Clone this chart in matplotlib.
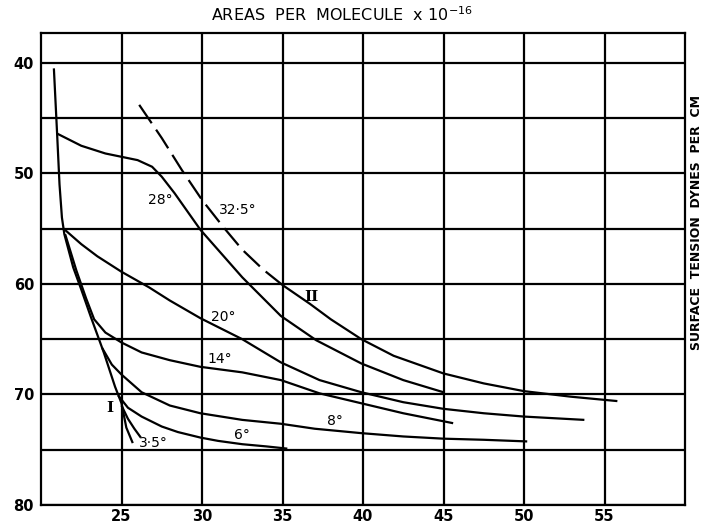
import numpy as np
import matplotlib
matplotlib.use("Agg")
import matplotlib.pyplot as plt

# Axis ticks
x_ticks = [25, 30, 35, 40, 45, 50, 55]
y_ticks = [40, 50, 60, 70, 80]
y_minor = [45, 55, 65, 75]

# Curves (area per molecule, surface tension)
env_x = [20.8, 21.0, 21.15, 21.3, 21.45, 22.0, 22.5, 23.1, 23.9, 24.6, 25.0, 25.3, 25.7]
env_y = [40.5, 46.4, 51.0, 54.0, 55.5, 58.5, 60.5, 63.0, 66.2, 69.3, 70.8, 73.0, 74.4]

t28_x = [21.0, 22.5, 24.0, 25.0, 26.0, 26.9, 27.5, 28.3, 29.9, 32.5, 34.9, 37.1, 39.9, 42.5, 45.0]
t28_y = [46.4, 47.5, 48.2, 48.5, 48.8, 49.4, 50.3, 51.8, 55.1, 59.4, 62.9, 65.1, 67.2, 68.7, 69.8]

t325_x = [26.1, 27.5, 28.75, 30.0, 31.35, 32.5, 33.8, 35.0]
t325_y = [43.8, 46.8, 49.7, 52.4, 54.9, 56.9, 58.7, 60.1]

II_x = [35.0, 36.7, 38.0, 39.9, 41.9, 45.0, 47.5, 50.0, 52.9, 55.8]
II_y = [60.1, 61.8, 63.2, 65.0, 66.5, 68.1, 69.0, 69.7, 70.2, 70.6]

t20_x = [21.4, 22.5, 23.5, 25.0, 26.7, 28.0, 29.9, 32.5, 34.9, 37.3, 39.9, 42.5, 45.0, 47.5, 50.0, 53.75]
t20_y = [55.0, 56.4, 57.5, 58.9, 60.3, 61.5, 63.1, 65.0, 67.1, 68.7, 69.8, 70.7, 71.3, 71.7, 72.0, 72.3]

t14_x = [21.5, 22.2, 22.8, 23.3, 24.0, 25.0, 26.25, 28.0, 29.9, 32.5, 34.9, 37.3, 39.9, 42.5, 45.6]
t14_y = [55.5, 58.8, 61.3, 63.2, 64.4, 65.3, 66.2, 66.9, 67.5, 68.0, 68.7, 69.9, 70.8, 71.7, 72.6]

t8_x = [23.8, 24.4, 25.0, 26.25, 28.0, 29.9, 32.5, 34.9, 37.0, 39.9, 42.5, 45.0, 47.5, 50.2]
t8_y = [65.8, 67.3, 68.2, 69.8, 71.0, 71.7, 72.3, 72.65, 73.1, 73.5, 73.8, 74.0, 74.1, 74.25]

t6_x = [24.8, 25.4, 26.25, 27.5, 28.5, 29.9, 31.0, 32.5, 34.0, 35.3]
t6_y = [70.1, 71.2, 72.0, 72.9, 73.4, 73.9, 74.2, 74.5, 74.7, 74.9]

t35_x = [25.0, 25.4, 25.8, 26.2]
t35_y = [71.0, 72.2, 73.1, 73.9]

# curve labels
labels = ["28°", "32·5°", "20°", "14°", "8°", "6°", "3·5°"]
label_x = [27.4, 32.2, 31.3, 31.1, 38.25, 32.5, 27.0]
label_y = [52.4, 53.3, 63.0, 66.8, 72.4, 73.7, 74.4]

fig = plt.figure(figsize=(7.04, 5.27), dpi=100)
ax = fig.add_axes([41/704, 1 - 505/527, 644/704, 472/527])

lw = 1.6
for xs, ys in [(env_x, env_y), (t28_x, t28_y), (II_x, II_y), (t20_x, t20_y),
               (t14_x, t14_y), (t8_x, t8_y), (t6_x, t6_y), (t35_x, t35_y)]:
    ax.plot(xs, ys, color="black", lw=lw, solid_capstyle="butt")
ax.plot(t325_x, t325_y, color="black", lw=lw, linestyle=(0, (10, 3.5)))

for s, x, y in zip(labels, label_x, label_y):
    ax.text(x, y, s, fontsize=10, ha="center", va="center")
ax.text(24.25, 71.2, "I", fontsize=11, family="DejaVu Serif", weight="bold", ha="center", va="center")
ax.text(36.8, 61.2, "II", fontsize=11, family="DejaVu Serif", weight="bold", ha="center", va="center")

ax.set_xlim(20, 60)
ax.set_ylim(80, 37.3)
ax.set_xticks(x_ticks)
ax.set_yticks(y_ticks)
ax.set_yticks(y_minor, minor=True)
ax.grid(True, which="both", color="black", lw=lw)
ax.tick_params(which="both", length=0)
ax.tick_params(axis="y", pad=5, labelsize=10.5)
ax.tick_params(axis="x", pad=3, labelsize=10.5)
for lab in ax.get_xticklabels() + ax.get_yticklabels():
    lab.set_fontweight("bold")
for sp in ax.spines.values():
    sp.set_linewidth(lw)

fig.text(342/704, 1 - 15/527, "AREAS  PER  MOLECULE  x 10$^{-16}$", fontsize=11.5,
         ha="center", va="center")
fig.text(697/704, 1 - 222/527, "SURFACE  TENSION  DYNES  PER  CM", fontsize=9,
         weight="bold", rotation=90, ha="center", va="center")

fig.savefig("out.png", dpi=100)
